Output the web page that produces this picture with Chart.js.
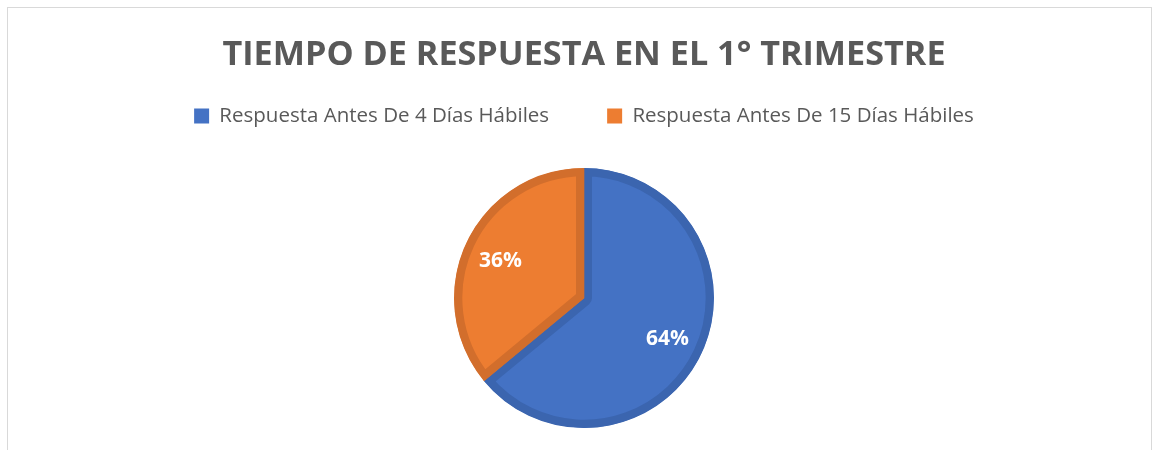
<!DOCTYPE html>
<html>
<head>
<meta charset="utf-8">
<script src="https://cdn.jsdelivr.net/npm/chart.js@4"></script>
<style>
  html, body { margin: 0; padding: 0; background: #fff; overflow: hidden; }
  #marco {
    position: absolute; left: 7px; top: 7px;
    width: 1143px; height: 480px;
    border: 1px solid #d9d9d9;
  }
</style>
</head>
<body>
<div id="marco"><canvas id="pie"></canvas></div>
<script>
'use strict';

// datos
const categorias = ['Respuesta Antes De 4 Días Hábiles', 'Respuesta Antes De 15 Días Hábiles'];
const porcentajes = [64, 36];
const colores = ['#4472C4', '#ED7D31'];
const bordes = ['#3B65AF', '#D26E2C'];

// etiquetas de porcentaje dentro de cada porción
const etiquetas = {
    id: 'etiquetas',
    afterDatasetsDraw(chart) {
        const ctx = chart.ctx;
        const meta = chart.getDatasetMeta(0);
        ctx.save();
        ctx.font = 'bold 21px "Open Sans"';
        ctx.fillStyle = '#ffffff';
        ctx.textAlign = 'center';
        ctx.textBaseline = 'middle';
        meta.data.forEach(function (arc, i) {
            const p = arc.getProps(['x', 'y', 'startAngle', 'endAngle', 'outerRadius']);
            const mid = (p.startAngle + p.endAngle) / 2;
            const r = p.outerRadius * 0.71;
            ctx.fillText(porcentajes[i] + '%', p.x + Math.cos(mid) * r, p.y + Math.sin(mid) * r + 2);
        });
        ctx.restore();
    }
};

const data = {
    labels: categorias,
    datasets: [{
        data: porcentajes,
        backgroundColor: colores,
        borderColor: bordes,
        borderWidth: 8,
        borderAlign: 'inner'
    }]
};

const config = {
    type: 'pie',
    data,
    options: {
        responsive: true,
        maintainAspectRatio: false,
        animation: false,
        radius: 130,
        layout: { padding: { left: 9, top: 0, bottom: 28.3 } },
        plugins: {
            title: {
                display: true,
                text: 'TIEMPO DE RESPUESTA EN EL 1° TRIMESTRE',
                color: '#595959',
                font: { family: '"Open Sans"', size: 34.2, weight: 'bold', lineHeight: 1.2 },
                padding: { top: 26.3, bottom: -27.5 }
            },
            legend: {
                position: 'top',
                labels: {
                    color: '#595959',
                    font: { family: '"Open Sans"', size: 20.5 },
                    boxWidth: 15,
                    boxHeight: 15,
                    padding: 58,
                    generateLabels(chart) {
                        return categorias.map(function (c, i) {
                            return { text: c, fillStyle: colores[i], strokeStyle: colores[i], lineWidth: 0, index: i, fontColor: '#595959' };
                        });
                    }
                }
            },
            tooltip: { enabled: false }
        }
    },
    plugins: [etiquetas]
};

new Chart(document.getElementById('pie'), config);
</script>
</body>
</html>
